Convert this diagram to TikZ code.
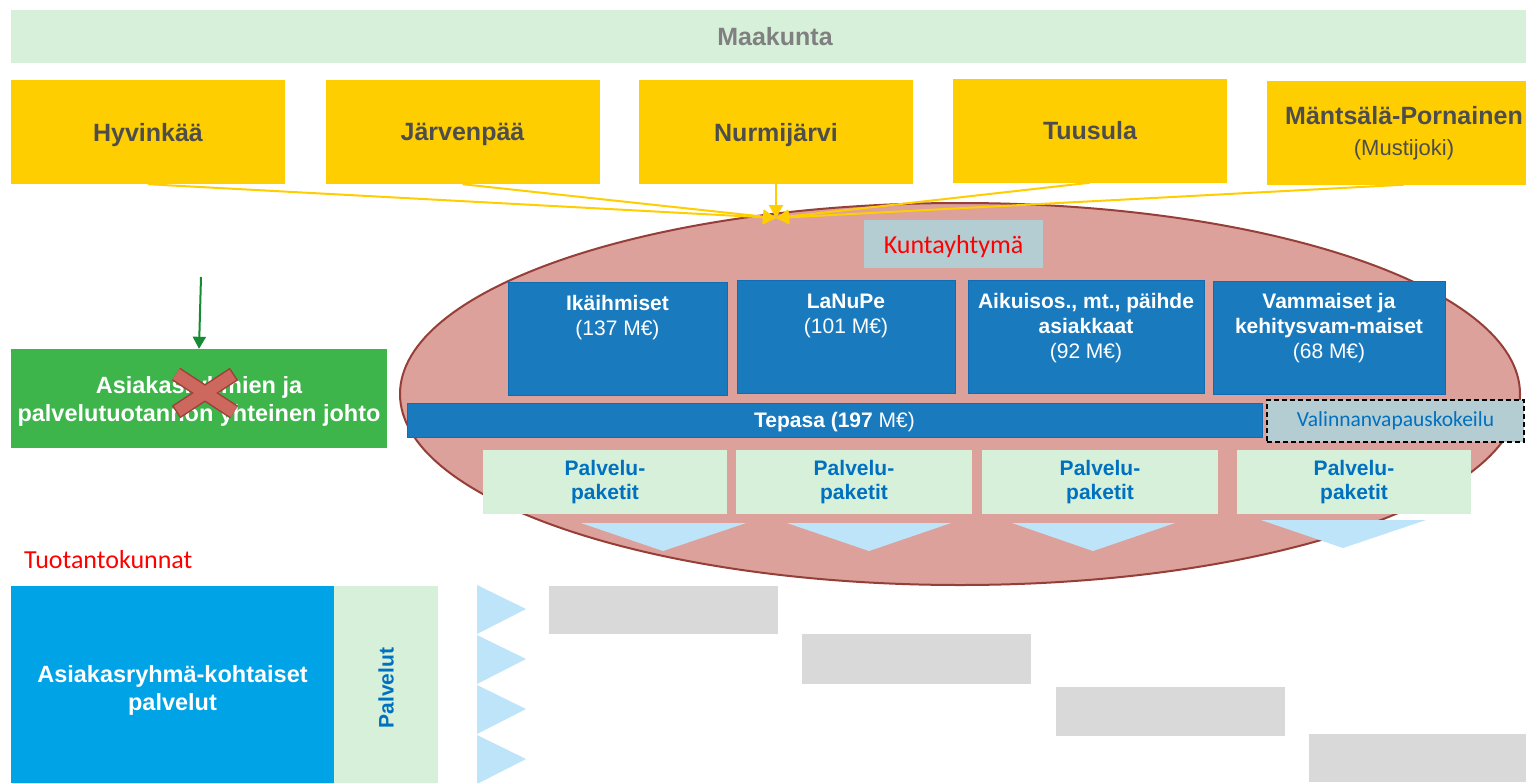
\documentclass[tikz,border=0pt]{standalone}
\usepackage{fontspec}
\setmainfont{Liberation Sans}
\newfontfamily\calfont{Carlito}
\usetikzlibrary{arrows.meta,positioning}
\definecolor{maagreen}{RGB}{214,240,218}
\definecolor{maatext}{RGB}{128,128,128}
\definecolor{cityyellow}{RGB}{255,206,0}
\definecolor{citytext}{RGB}{77,77,77}
\definecolor{kuntafill}{RGB}{221,161,155}
\definecolor{kuntaedge}{RGB}{150,62,56}
\definecolor{groupblue}{RGB}{26,122,190}
\definecolor{groupedge}{RGB}{18,108,178}
\definecolor{greyblue}{RGB}{180,205,211}
\definecolor{pakettiblue}{RGB}{0,112,192}
\definecolor{tipblue}{RGB}{190,228,250}
\definecolor{johtogreen}{RGB}{61,181,74}
\definecolor{arrowgreen}{RGB}{22,140,50}
\definecolor{crossfill}{RGB}{204,104,94}
\definecolor{crossedge}{RGB}{158,64,57}
\definecolor{palvblue}{RGB}{0,163,230}
\definecolor{boxgrey}{RGB}{217,217,217}
\tikzstyle{maaband} = [fill=maagreen, text=maatext, inner sep=0pt,
    minimum width=1528pt, minimum height=53pt, font=\fontsize{25}{30}\selectfont\bfseries]
\tikzstyle{citybox} = [fill=cityyellow, text=citytext, inner sep=0pt, align=center, text depth=0pt,
    minimum width=274pt, minimum height=104pt, font=\fontsize{25}{31}\selectfont\bfseries]
\tikzstyle{kuntaell} = [fill=kuntafill, draw=kuntaedge, line width=2pt]
\tikzstyle{feed} = [cityyellow, line width=2pt, -{Triangle[length=13pt,width=14pt]}]
\tikzstyle{greytitle} = [fill=greyblue, inner sep=0pt, font=\calfont\fontsize{26}{30}\selectfont]
\tikzstyle{groupbox} = [fill=groupblue, draw=groupedge, line width=1pt, inner sep=0pt,
    minimum height=113pt]
\tikzstyle{grouptext} = [text=white, inner sep=0pt, align=center,
    font=\fontsize{21}{25}\selectfont]
\tikzstyle{pakettibox} = [fill=maagreen, text=pakettiblue, inner sep=0pt, align=center,
    minimum height=64pt, font=\fontsize{21}{24}\selectfont\bfseries]
\tikzstyle{johtobox} = [fill=johtogreen, text=white, inner sep=0pt, align=center, text depth=0pt,
    minimum width=376pt, minimum height=99pt, font=\fontsize{23.5}{28}\selectfont\bfseries]
\tikzstyle{johtoarrow} = [arrowgreen, line width=2pt, -{Triangle[length=12pt,width=13pt]}]
\tikzstyle{redlabel} = [text=red, inner sep=0pt, font=\calfont\fontsize{26}{30}\selectfont]

\begin{document}
\begin{tikzpicture}[x=1pt,y=-1pt]
    \path[use as bounding box, clip] (0,0) rectangle (1526,782);
    \fill[white] (0,0) rectangle (1526,782);
    \node[maaband] (maa) at (775,36.5) {Maakunta};
    \node[citybox] (hyv) at (148,132) {Hyvinkää};
    \node[citybox] (jar) at (462.5,132) {Järvenpää};
    \node[citybox] (nur) at (776,132) {Nurmijärvi};
    \node[citybox] (tuu) at (1090,130.5) {Tuusula};
    \node[citybox, text depth=4pt] (man) at (1404,132.5) {Mäntsälä-Pornainen\\{\mdseries\fontsize{22}{26}\selectfont(Mustijoki)}};
    \draw[kuntaell] (960,394) ellipse [x radius=560pt, y radius=191pt];
    \coordinate (hub) at (776,218);
    \draw[feed] (hyv.south) -- (hub);
    \draw[feed] (jar.south) -- (hub);
    \draw[feed] (tuu.south) -- (hub);
    \draw[feed] (man.south) -- (hub);
    \draw[feed] (nur.south) -- (hub);
    \node[greytitle, minimum width=179pt, minimum height=48pt, text depth=0pt, text=red] (kunta) at (953.5,244) {Kuntayhtymä};
    \node[groupbox, minimum width=219pt] (ika) at (617.5,338.5) {};
    \node[groupbox, minimum width=218pt] (lan) at (846,337) {};
    \node[groupbox, minimum width=236pt] (aik) at (1086,337) {};
    \node[groupbox, minimum width=232pt] (vam) at (1329,337.5) {};
    \node[grouptext, below=14pt of ika.north] (ikat) {\textbf{Ikäihmiset}\\(137 M€)};
    \node[grouptext, below=14pt of lan.north] (lant) {\textbf{LaNuPe}\\(101 M€)};
    \node[grouptext, below=13pt of aik.north] (aikt) {\textbf{Aikuisos., mt., päihde}\\\textbf{asiakkaat}\\(92 M€)};
    \node[grouptext, below=13pt of vam.north] (vamt) {\textbf{Vammaiset ja}\\\textbf{kehitysvam-maiset}\\(68 M€)};
    \node[groupbox, grouptext, text depth=0pt, minimum width=855pt, minimum height=34pt] (tep) at (834.5,420) {\textbf{Tepasa (197} M€)};
    \node[greytitle, draw=black, line width=1.3pt, dash pattern=on 5pt off 3pt, text=pakettiblue,
        minimum width=257pt, minimum height=42pt, font=\calfont\fontsize{21.5}{26}\selectfont] (valinta) at (1395.5,421) {Valinnanvapauskokeilu};
    \node[pakettibox, minimum width=244pt] (pp1) at (605,482) {Palvelu-\\paketit};
    \node[pakettibox, minimum width=236pt] (pp2) at (854,482) {Palvelu-\\paketit};
    \node[pakettibox, minimum width=236pt] (pp3) at (1100,482) {Palvelu-\\paketit};
    \node[pakettibox, minimum width=234pt] (pp4) at (1354,482) {Palvelu-\\paketit};
    \foreach \l/\r/\t/\y in {581/746/663/523, 787/951/869/523, 1012/1175/1093/523, 1261/1426/1343/520}
        \fill[tipblue] (\l,\y) -- (\r,\y) -- (\t,\y+28) -- cycle;
    \node[johtobox] (johto) at (199,398.5) {Asiakasryhmien ja\\palvelutuotannon yhteinen johto};
    \coordinate (jtop) at (201,277);
    \draw[johtoarrow] (jtop) -- (johto.north);
    \draw[crossedge, line width=15pt] (176,374) -- (234,412) (176,412) -- (234,374);
    \draw[crossfill, line width=12pt, shorten <=1.5pt, shorten >=1.5pt] (176,374) -- (234,412) (176,412) -- (234,374);
    \node[redlabel, anchor=west] (tuot) at (24,560) {Tuotantokunnat};
    \node[johtobox, fill=palvblue, minimum width=323pt, minimum height=204pt] (asiak) at (172.5,688) {Asiakasryhmä-kohtaiset\\palvelut};
    \node[pakettibox, rotate=90, minimum width=204pt, minimum height=104pt] (palv) at (386,688) {Palvelut};
    \foreach \y in {585,635,685,735}
        \fill[tipblue] (477,\y) -- (526,\y+24) -- (477,\y+49) -- cycle;
    \foreach \a/\b/\c/\d in {549/586/778/634, 802/634/1031/684, 1056/687/1285/736, 1309/734/1540/782}
        \fill[boxgrey] (\a,\b) rectangle (\c,\d);
\end{tikzpicture}
\end{document}
